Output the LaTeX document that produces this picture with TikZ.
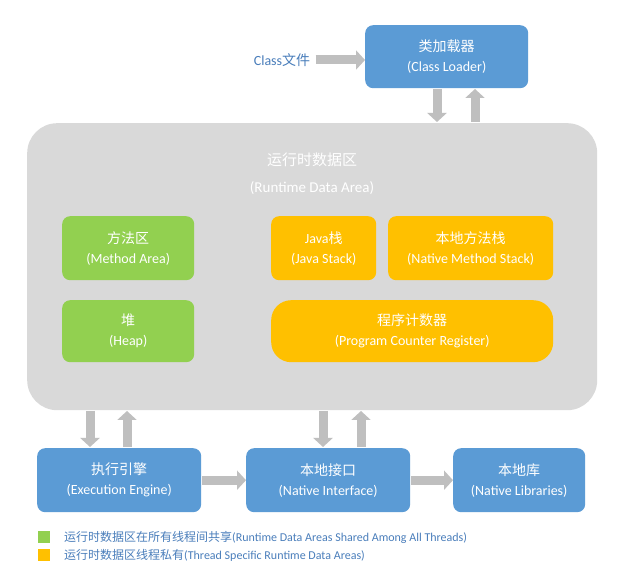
\documentclass[tikz,border=0pt]{standalone}
\usepackage{fontspec}
\setmainfont{Carlito}
\newfontfamily\cjk{Noto Sans CJK SC}
\usetikzlibrary{arrows.meta}
\definecolor{bl}{HTML}{5B9BD5}
\definecolor{gr}{HTML}{92D050}
\definecolor{og}{HTML}{FFC000}
\definecolor{lg}{HTML}{D9D9D9}
\definecolor{ar}{HTML}{BFBFBF}
\definecolor{tx}{HTML}{4A7EBB}
\tikzset{
 box/.style={rounded corners=8pt,text=white,align=center,font=\fontsize{14}{20}\selectfont,inner sep=0pt},
 fat/.style={draw=ar,line width=9pt,-{Triangle[length=9pt,width=19pt]},shorten >=0pt},
}
\begin{document}
\begin{tikzpicture}[x=1pt,y=-1pt]
\useasboundingbox (0,0) rectangle (619,577);
\fill[white] (0,0) rectangle (619,577);
\node[box,fill=lg,minimum width=570,minimum height=287,rounded corners=30pt,anchor=north west] (rda) at (27,123) {};
\node[text=white,align=center,font=\fontsize{15}{27}\selectfont] (rdat) at (312,174) {{\cjk 运行时数据区}\\(Runtime Data Area)};
\node[box,fill=bl,minimum width=163,minimum height=63,anchor=north west] (cl) at (365,25) {{\cjk 类加载器}\\(Class Loader)};
\node[text=tx,font=\fontsize{14}{16}\selectfont] (cf) at (282,60) {Class{\cjk 文件}};
\node[box,fill=gr,minimum width=132,minimum height=64,anchor=north west] (ma) at (62,216) {{\cjk 方法区}\\(Method Area)};
\node[box,fill=gr,minimum width=132,minimum height=62,anchor=north west] (hp) at (62,300) {{\cjk 堆}\\(Heap)};
\node[box,fill=og,minimum width=105,minimum height=64,anchor=north west] (js) at (271,216) {Java{\cjk 栈}\\(Java Stack)};
\node[box,fill=og,minimum width=165,minimum height=64,anchor=north west] (nms) at (388,216) {{\cjk 本地方法栈}\\(Native Method Stack)};
\node[box,fill=og,minimum width=282,minimum height=62,rounded corners=20pt,anchor=north west] (pc) at (271,300) {{\cjk 程序计数器}\\(Program Counter Register)};
\node[box,fill=bl,minimum width=164,minimum height=64,anchor=north west] (ee) at (37,448) {{\cjk 执行引擎}\\(Execution Engine)};
\node[box,fill=bl,minimum width=164,minimum height=64,anchor=north west] (ni) at (246,448) {{\cjk 本地接口}\\(Native Interface)};
\node[box,fill=bl,minimum width=132,minimum height=64,anchor=north west] (nl) at (453,448) {{\cjk 本地库}\\(Native Libraries)};
\draw[fat] (cf.east) ++(2,0) coordinate (c1) -- (c1 -| cl.west);
\draw[fat] (437,89) -- (437,122);
\draw[fat] (475,122) -- (475,89);
\draw[fat] (90,411) -- (90,447);
\draw[fat] (127,447) -- (127,411);
\draw[fat] (323,411) -- (323,447);
\draw[fat] (361,447) -- (361,411);
\draw[fat] (ee.east) ++(1,0) -- (ni.west);
\draw[fat] (ni.east) ++(1,0) -- (nl.west);
\fill[gr] (38,531) rectangle (50,543);
\fill[og] (38,549) rectangle (50,561);
\node[anchor=west,text=tx,font=\fontsize{12}{13}\selectfont,inner sep=0pt] (l1) at (64,537) {{\cjk 运行时数据区在所有线程间共享}(Runtime Data Areas Shared Among All Threads)};
\node[anchor=west,text=tx,font=\fontsize{12}{13}\selectfont,inner sep=0pt] (l2) at (64,555) {{\cjk 运行时数据区线程私有}(Thread Specific Runtime Data Areas)};
\end{tikzpicture}
\end{document}
